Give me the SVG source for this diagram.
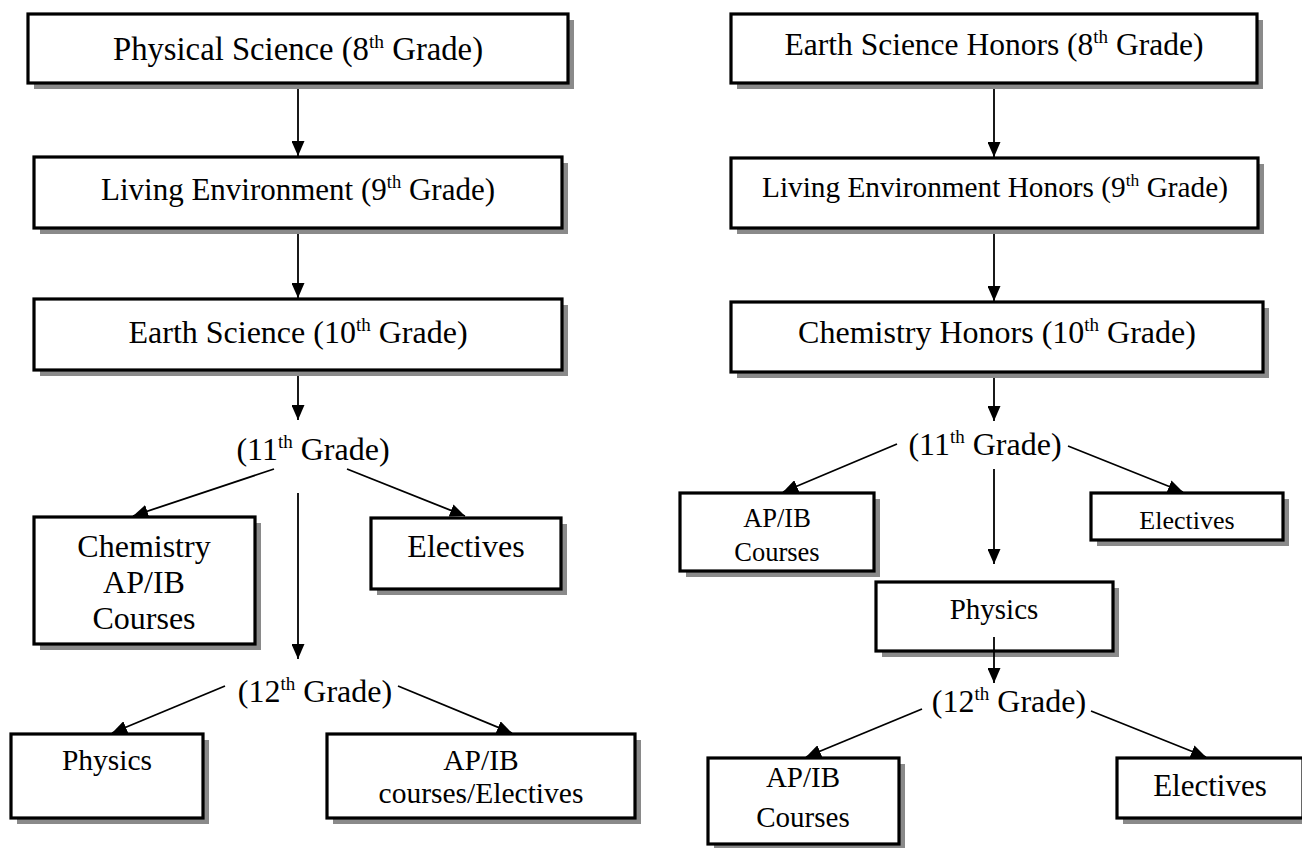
<svg xmlns="http://www.w3.org/2000/svg" width="1302" height="848" viewBox="0 0 1302 848">
<style>
.sh{fill:#8a8a8a}
.bx{fill:#fff;stroke:#000;stroke-width:3.2}
.t{font-family:"Liberation Serif","Times New Roman",serif;fill:#000;text-anchor:middle}
.c{stroke:#000;stroke-width:1.8;fill:none;marker-end:url(#ah)}
</style>
<defs>
<marker id="ah" markerUnits="userSpaceOnUse" markerWidth="15" markerHeight="13" refX="15" refY="6.5" orient="auto">
<path d="M0,0 L15,6.5 L0,13 z" fill="#000"/>
</marker>
</defs>
<rect width="1302" height="848" fill="#fff"/>
<g id="connectors">
<line class="c" x1="298" y1="84" x2="298" y2="156"/>
<line class="c" x1="298" y1="229" x2="298" y2="298"/>
<line class="c" x1="298" y1="371" x2="298" y2="420"/>
<line class="c" x1="274" y1="469" x2="133" y2="516"/>
<line class="c" x1="347" y1="469" x2="465" y2="516"/>
<line class="c" x1="298" y1="493" x2="298" y2="659"/>
<line class="c" x1="225" y1="686" x2="112" y2="733"/>
<line class="c" x1="398" y1="686" x2="512" y2="733"/>
<line class="c" x1="994" y1="84" x2="994" y2="157"/>
<line class="c" x1="994" y1="229" x2="994" y2="301"/>
<line class="c" x1="994" y1="373" x2="994" y2="421"/>
<line class="c" x1="897" y1="444" x2="783" y2="492"/>
<line class="c" x1="1068" y1="446" x2="1183" y2="492"/>
<line class="c" x1="994" y1="469" x2="994" y2="564"/>
<line class="c" x1="922" y1="709" x2="806" y2="757"/>
<line class="c" x1="1091" y1="711" x2="1206" y2="757"/>
</g>
<g id="physical-science">
<rect class="sh" x="34" y="20" width="540" height="69"/>
<rect class="bx" x="28" y="14" width="540" height="69"/>
<text class="t" x="298" y="60" font-size="32.7">Physical Science (8<tspan font-size="19.5" dy="-12">th</tspan><tspan dy="12"> Grade)</tspan></text>
</g>
<g id="living-environment">
<rect class="sh" x="40" y="163" width="528" height="71"/>
<rect class="bx" x="34" y="157" width="528" height="71"/>
<text class="t" x="298" y="200" font-size="31">Living Environment (9<tspan font-size="18.5" dy="-12">th</tspan><tspan dy="12"> Grade)</tspan></text>
</g>
<g id="earth-science">
<rect class="sh" x="40" y="305" width="528" height="71"/>
<rect class="bx" x="34" y="299" width="528" height="71"/>
<text class="t" x="298" y="343" font-size="32">Earth Science (10<tspan font-size="19" dy="-12">th</tspan><tspan dy="12"> Grade)</tspan></text>
</g>
<g id="left-11th-grade">
<text class="t" x="313" y="460" font-size="32">(11<tspan font-size="19" dy="-12">th</tspan><tspan dy="12"> Grade)</tspan></text>
</g>
<g id="chemistry-apib">
<rect class="sh" x="40" y="523" width="221" height="127"/>
<rect class="bx" x="34" y="517" width="221" height="127"/>
<text class="t" x="144" y="557" font-size="32">Chemistry</text>
<text class="t" x="144" y="593" font-size="32">AP/IB</text>
<text class="t" x="144" y="629" font-size="32">Courses</text>
</g>
<g id="left-electives">
<rect class="sh" x="377" y="524" width="190" height="71"/>
<rect class="bx" x="371" y="518" width="190" height="71"/>
<text class="t" x="466" y="557" font-size="32">Electives</text>
</g>
<g id="left-12th-grade">
<text class="t" x="315" y="702" font-size="32">(12<tspan font-size="19" dy="-12">th</tspan><tspan dy="12"> Grade)</tspan></text>
</g>
<g id="left-physics">
<rect class="sh" x="17" y="740" width="192" height="84"/>
<rect class="bx" x="11" y="734" width="192" height="84"/>
<text class="t" x="107" y="770" font-size="29.5">Physics</text>
</g>
<g id="left-apib-electives">
<rect class="sh" x="333" y="740" width="308" height="84"/>
<rect class="bx" x="327" y="734" width="308" height="84"/>
<text class="t" x="481" y="770" font-size="29.5">AP/IB</text>
<text class="t" x="481" y="803" font-size="29.5">courses/Electives</text>
</g>
<g id="earth-science-honors">
<rect class="sh" x="737" y="20" width="526" height="69"/>
<rect class="bx" x="731" y="14" width="526" height="69"/>
<text class="t" x="994" y="55" font-size="31.5">Earth Science Honors (8<tspan font-size="19" dy="-12">th</tspan><tspan dy="12"> Grade)</tspan></text>
</g>
<g id="living-environment-honors">
<rect class="sh" x="737" y="164" width="527" height="70"/>
<rect class="bx" x="731" y="158" width="527" height="70"/>
<text class="t" x="995" y="197" font-size="29.3">Living Environment Honors (9<tspan font-size="17.5" dy="-11">th</tspan><tspan dy="11"> Grade)</tspan></text>
</g>
<g id="chemistry-honors">
<rect class="sh" x="737" y="308" width="532" height="70"/>
<rect class="bx" x="731" y="302" width="532" height="70"/>
<text class="t" x="997" y="343" font-size="32">Chemistry Honors (10<tspan font-size="19" dy="-12">th</tspan><tspan dy="12"> Grade)</tspan></text>
</g>
<g id="right-11th-grade">
<text class="t" x="985" y="455" font-size="32">(11<tspan font-size="19" dy="-12">th</tspan><tspan dy="12"> Grade)</tspan></text>
</g>
<g id="right-apib-11">
<rect class="sh" x="686" y="499" width="194" height="78"/>
<rect class="bx" x="680" y="493" width="194" height="78"/>
<text class="t" x="777" y="527" font-size="26.5">AP/IB</text>
<text class="t" x="777" y="561" font-size="26.5">Courses</text>
</g>
<g id="right-electives-11">
<rect class="sh" x="1097" y="499" width="192" height="47"/>
<rect class="bx" x="1091" y="493" width="192" height="47"/>
<text class="t" x="1187" y="529" font-size="26">Electives</text>
</g>
<g id="right-physics">
<rect class="sh" x="882" y="588" width="237" height="69"/>
<rect class="bx" x="876" y="582" width="237" height="69"/>
<text class="t" x="994" y="619" font-size="29">Physics</text>
</g>
<g id="physics-to-12">
<line class="c" x1="994" y1="637" x2="994" y2="683"/>
</g>
<g id="right-12th-grade">
<text class="t" x="1009" y="712" font-size="32">(12<tspan font-size="19" dy="-12">th</tspan><tspan dy="12"> Grade)</tspan></text>
</g>
<g id="right-apib-12">
<rect class="sh" x="714" y="764" width="191" height="86"/>
<rect class="bx" x="708" y="758" width="191" height="86"/>
<text class="t" x="803" y="787" font-size="29">AP/IB</text>
<text class="t" x="803" y="827" font-size="29">Courses</text>
</g>
<g id="right-electives-12">
<rect class="sh" x="1123" y="764" width="186" height="60"/>
<rect class="bx" x="1117" y="758" width="186" height="60"/>
<text class="t" x="1210" y="796" font-size="31">Electives</text>
</g>
</svg>
